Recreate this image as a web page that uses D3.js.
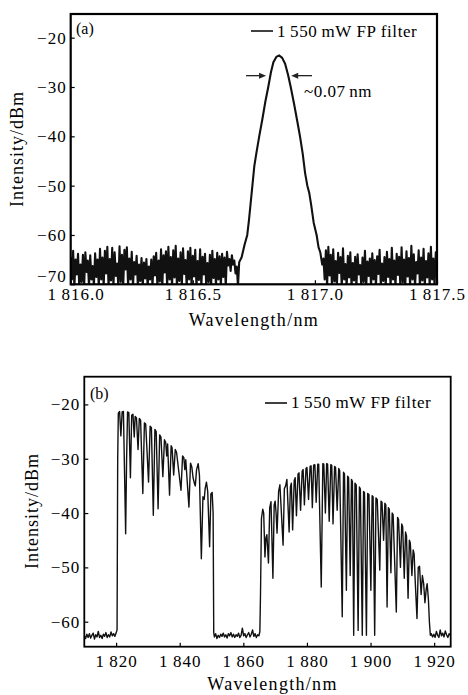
<!DOCTYPE html>
<html>
<head>
<meta charset="utf-8">
<script src="https://cdn.jsdelivr.net/npm/d3@7"></script>
<style>
  body { margin: 0; background: #fff; }
  svg text { font-family: "Liberation Serif", "Times New Roman", serif; fill: #000; }
</style>
</head>
<body>
<div id="chart"></div>
<script>
// ---- panel (a) data: OSA trace sampled every 0.005 nm ----
const noiseLeftStartA = 1816.0;
const noiseLeftA = [
  -64.5,-69,-63.2,-70.5,-65,-68,-63.8,-70.5,-66,-69.5,-64,-70.5,-63.5,-67.5,-65.2,-70.5,-64.1,-69,-66.3,-70.5,
  -63.7,-68.5,-65,-70.5,-62.8,-69,-64.6,-70.5,-63.2,-67.8,-62.4,-70.5,-64.9,-69.2,-62.6,-70.5,-63.5,-68.3,-65.8,-70.5,
  -62.3,-69.5,-64,-70.5,-63,-67,-62.5,-70.5,-64.8,-69,-63.4,-70.5,-65.5,-68,-64.2,-70.5,-66,-69.3,-64.7,-70.5,
  -65.6,-68.8,-64.9,-70.5,-66.4,-69,-65,-70.5,-64.3,-68.2,-63.6,-70.5,-65.2,-69.4,-62.9,-70.5,-64.1,-67.6,-63.3,-70.5,
  -62.4,-69,-64.5,-70.5,-63.1,-68.6,-62.2,-70.5,-64.8,-69.3,-63.5,-70.5,-62.7,-67.9,-65.1,-70.5,-63.3,-69,-62.6,-70.5,
  -64.2,-68.4,-63,-70.5,-65.3,-69.1,-62.9,-70.5,-64.4,-68,-63.8,-70.5,-65.7,-69.5,-64,-70.5,-63.2,-68.7,-64.9,-70.5,
  -63.6,-69,-64.3,-70.5,-63.8,-68.5,-64.6,-70.5,-63.4,-66.2,-64.9,-67.3,-64.1,-66,-65.2,-67.8,-66.4,-70.5,-65.5
];
const peakA = [
  [1816.700,-64.5],[1816.712,-62.0],[1816.723,-60],[1816.730,-57],[1816.738,-53],[1816.744,-50],
  [1816.752,-46],[1816.760,-43.5],[1816.772,-40],[1816.785,-36.5],[1816.797,-33],[1816.809,-30],
  [1816.820,-27],[1816.830,-25],[1816.842,-23.9],[1816.854,-23.6],[1816.866,-24.1],[1816.878,-25.3],
  [1816.890,-27.5],[1816.901,-30],[1816.915,-33.5],[1816.928,-37],[1816.939,-40],[1816.950,-43.5],
  [1816.960,-47.5],[1816.969,-50],[1816.977,-51.5],[1816.985,-54],[1816.995,-57.5],[1817.007,-60],
  [1817.015,-62.5],[1817.022,-63.5],[1817.030,-66]
];
const noiseRightStartA = 1817.035;
const noiseRightA = [
  -64.8,-69,-63.1,-70.5,-62.4,-68.2,-64,-70.5,-62.9,-69.4,-65.3,-70.5,-63.6,-67.7,-64.5,-70.5,-62.7,-69,-65.9,-70.5,
  -64.2,-68.6,-63.5,-70.5,-65.7,-69.2,-64.4,-70.5,-63.9,-68,-66.1,-70.5,-64.6,-69.5,-63.2,-70.5,-65.4,-68.3,-64.8,-70.5,
  -63.7,-69,-65.1,-70.5,-64.3,-67.9,-63,-70.5,-65.8,-69.3,-64.5,-70.5,-63.4,-68.5,-64.9,-70.5,-62.6,-69,-65.2,-70.5,
  -63.8,-68.1,-64.4,-70.5,-62.5,-69.6,-65,-70.5,-63.3,-68.4,-64.7,-70.5,-62.2,-69,-63.9,-70.5,-65.5,-67.8,-63.1,-70.5,
  -64.6,-69.2,-62.8,-70.5,-65.3,-68.6,-63.7,-70.5,-62.4,-69,-64.8,-70.5,-63.5,-68
];
const sampleStepA = 0.005;

// ---- panel (b) data: [wavelength nm, intensity dBm] ----
const floor1B = [
  [1810.0,-62.6],[1810.4,-63.1],[1810.8,-62.3],[1811.2,-62.9],[1811.6,-62.2],[1812.0,-63.0],[1812.4,-62.5],
  [1812.8,-62.1],[1813.2,-63.2],[1813.6,-62.4],[1814.0,-62.8],[1814.4,-61.8],[1814.8,-62.9],[1815.2,-62.5],
  [1815.6,-63.1],[1816.0,-62.3],[1816.4,-62.7],[1816.8,-62.0],[1817.2,-62.9],[1817.6,-62.4],[1818.0,-62.8],
  [1818.4,-61.9],[1818.8,-62.6],[1819.2,-62.2],[1819.6,-62.7],[1820.0,-62.1],[1820.3,-61.5]
];
const band1B = [
  [1820.5,-30],[1820.7,-21.6],[1821.1,-21.3],[1821.5,-25.8],[1821.9,-21.4],[1822.3,-21.3],[1822.7,-34],
  [1823.0,-43.8],[1823.3,-30],[1823.6,-21.4],[1824.0,-21.5],[1824.5,-33.5],[1824.9,-22],[1825.3,-21.8],
  [1825.7,-26],[1826.0,-22.2],[1826.4,-22.5],[1826.9,-28.3],[1827.3,-22.6],[1827.7,-22.9],[1828.4,-36.4],
  [1828.9,-23.4],[1829.3,-23.6],[1830.2,-34.3],[1830.7,-24],[1831.1,-24.3],[1831.7,-40.4],[1832.2,-24.6],
  [1832.6,-25],[1833.2,-39.2],[1833.7,-25.6],[1834.1,-26],[1834.7,-33.3],[1835.2,-26.5],[1835.6,-27],
  [1835.9,-29.5],[1836.2,-27.3],[1836.8,-36.7],[1837.3,-27.6],[1837.6,-28],[1838.1,-33],[1838.6,-28.3],
  [1839.0,-28.8],[1840.4,-35.8],[1840.9,-29.5],[1841.3,-29.8],[1841.6,-32],[1841.9,-30.2],[1842.9,-38.9],
  [1843.4,-30.8],[1843.8,-31.5],[1844.2,-33.5],[1844.6,-34.5],[1844.9,-35],[1845.3,-32],[1845.8,-30.9],
  [1846.2,-33],[1846.8,-48.4],[1847.3,-37],[1847.7,-37.5],[1848.0,-35.5],[1848.4,-34.3],[1848.8,-36],
  [1849.4,-46.2],[1849.8,-36.5],[1850.2,-36.2],[1850.5,-40],[1850.7,-62]
];
const floor2B = [
  [1850.9,-62.8],[1851.3,-62.2],[1851.7,-63.1],[1852.1,-62.5],[1852.5,-62.9],[1852.9,-62.3],[1853.3,-62.7],
  [1853.7,-62.1],[1854.1,-62.8],[1854.5,-62.4],[1854.9,-63],[1855.3,-62.2],[1855.7,-62.6],[1856.1,-62.0],
  [1856.5,-62.8],[1856.9,-62.3],[1857.3,-62.9],[1857.7,-62.4],[1858.1,-62.7],[1858.5,-62.1],[1858.9,-62.9],
  [1859.3,-62.5],[1859.7,-61.2],[1860.1,-62.6],[1860.5,-62.2],[1860.9,-62.9],[1861.3,-62.4],[1861.7,-62.0],
  [1862.1,-62.8],[1862.5,-62.3],[1862.9,-61.5],[1863.3,-62.7],[1863.7,-62.2],[1864.1,-62.9],[1864.5,-62.4],
  [1864.9,-62.6],[1865.2,-61.8]
];
const band2B = [
  [1865.4,-55],[1865.7,-41],[1866.1,-39.3],[1866.4,-40],[1866.8,-48.1],[1867.1,-44.6],[1867.4,-44],
  [1867.9,-49.2],[1868.3,-39],[1868.7,-37.9],[1869.3,-52],[1869.7,-38.5],[1870.0,-37.8],[1870.3,-40],
  [1870.6,-43.7],[1871.1,-36],[1871.5,-34.8],[1872.5,-45.9],[1872.9,-35.5],[1873.3,-35],[1873.7,-33.8],
  [1874.4,-43.5],[1874.8,-35.2],[1875.1,-34.5],[1875.5,-43.1],[1876.0,-34],[1876.3,-33.5],[1876.7,-40.5],
  [1877.2,-32.8],[1877.5,-32.6],[1878.0,-39.5],[1878.5,-32.3],[1878.8,-32],[1879.2,-38.5],[1879.7,-31.8],
  [1880.0,-31.6],[1880.5,-37.5],[1881.0,-31.4],[1881.3,-31.3],[1881.7,-39],[1882.1,-31.2],[1882.5,-31.1],
  [1882.9,-38],[1883.4,-31],[1883.7,-31],[1884.5,-53.6],[1885.0,-30.9],[1885.3,-31],[1885.8,-40],
  [1886.2,-30.9],[1886.5,-31],[1887.0,-41.5],[1887.5,-31.1],[1887.8,-31.2],[1888.2,-42],[1888.7,-31.4],
  [1889.0,-31.6],[1889.5,-39.5],[1890.0,-31.8],[1890.3,-32.2],[1891.1,-59.1],[1891.5,-32.5],[1891.8,-32.8],
  [1892.4,-54.2],[1892.8,-33.2],[1893.1,-33.5],[1893.6,-51.5],[1894.0,-33.8],[1894.3,-34.2],[1894.7,-62.5],
  [1895.1,-34.5],[1895.5,-34.8],[1896.1,-61.6],[1896.5,-35.2],[1896.8,-35.6],[1897.4,-62.5],[1897.8,-36],
  [1898.1,-36.3],[1898.7,-62.5],[1899.1,-36.4],[1899.5,-36.6],[1900.1,-54.2],[1900.5,-36.8],[1900.8,-37],
  [1901.3,-62.5],[1901.7,-37.2],[1902.1,-37.5],[1902.9,-50.5],[1903.3,-37.8],[1903.6,-38],[1904.1,-45],
  [1904.5,-38.2],[1904.8,-38.5],[1905.2,-57.3],[1905.6,-39],[1905.9,-39.3],[1906.4,-51],[1906.8,-40],
  [1907.1,-40.3],[1908.1,-58.2],[1908.5,-40.8],[1908.8,-41.2],[1909.4,-50],[1909.8,-42],[1910.1,-42.5],
  [1910.6,-52],[1911.0,-43.5],[1911.3,-44.2],[1911.8,-55.7],[1912.2,-45],[1912.5,-45.5],[1913.0,-51.5],
  [1913.4,-46.8],[1913.7,-47.5],[1914.0,-52],[1914.6,-59.4],[1915.0,-50],[1915.4,-49.8],[1915.9,-55],
  [1916.3,-51.5],[1916.7,-53],[1917.1,-56.5],[1917.5,-54],[1917.8,-53],[1918.2,-56],[1918.5,-60],[1918.8,-62.5]
];
const floor3B = [
  [1919.1,-62.2],[1919.5,-62.8],[1919.9,-62.3],[1920.3,-62.9],[1920.7,-61.8],[1921.1,-62.5],[1921.5,-62.9],
  [1921.9,-61.5],[1922.3,-62.6],[1922.7,-62.1],[1923.1,-62.8],[1923.5,-61.7],[1923.9,-62.4],[1924.3,-62.9],
  [1924.7,-62.2],[1925.0,-62.5]
];

// ticks and labels
const xTicksA = [1816.0, 1816.5, 1817.0, 1817.5];
const yTicksA = [-70, -60, -50, -40, -30, -20];
const xTicksB = [1820, 1840, 1860, 1880, 1900, 1920];
const yTicksB = [-60, -50, -40, -30, -20];
const legendLabel = "1\u2009550\u2009mW FP filter";
const widthNote = "~0.07\u2009nm";

// build trace A from the sampled pieces
const traceA = noiseLeftA.map((v, i) => [noiseLeftStartA + i * sampleStepA, v])
  .concat(peakA)
  .concat(noiseRightA.map((v, i) => [noiseRightStartA + i * sampleStepA, v]));
const traceB = floor1B.concat(band1B, floor2B, band2B, floor3B);

const svg = d3.select("#chart").append("svg")
    .attr("width", 468).attr("height", 695);

// thin space between thousands and the rest
const groupFmt = digits => d => {
    const s = d.toFixed(digits);
    return s[0] + "\u2009" + s.slice(1);
};
const yFmt = d => "\u2212" + Math.abs(d);

function panel(cfg) {
    const width = cfg.right - cfg.left,
          height = cfg.bottom - cfg.top;

    const g = svg.append("g")
        .attr("transform", "translate(" + cfg.left + "," + cfg.top + ")");

    const x = d3.scaleLinear().domain(cfg.xDomain).range([0, width]);
    const y = d3.scaleLinear().domain(cfg.yDomain).range([height, 0]);

    g.append("clipPath").attr("id", cfg.id + "-clip")
      .append("rect").attr("width", width).attr("height", height);

    // trace
    g.append("path")
        .datum(cfg.data)
        .attr("clip-path", "url(#" + cfg.id + "-clip)")
        .attr("fill", "none")
        .attr("stroke", "#111")
        .attr("stroke-width", cfg.lineWidth)
        .attr("stroke-linejoin", "round")
        .attr("d", d3.line().x(d => x(d[0])).y(d => y(d[1])));

    // axes with inward ticks
    const xAxis = g.append("g")
        .attr("transform", "translate(0," + height + ")")
        .call(d3.axisBottom(x).tickValues(cfg.xTicks).tickFormat(cfg.xFormat)
            .tickSizeInner(-4).tickSizeOuter(0).tickPadding(cfg.xPad));
    const yAxis = g.append("g")
        .call(d3.axisLeft(y).tickValues(cfg.yTicks).tickFormat(yFmt)
            .tickSizeInner(-4).tickSizeOuter(0).tickPadding(4));
    [xAxis, yAxis].forEach(a => {
        a.select(".domain").remove();
        a.attr("font-family", null).attr("font-size", null);
        a.selectAll("line").attr("stroke", "#000").attr("stroke-width", 1.2);
        a.selectAll("text").style("font-size", "17px").attr("letter-spacing", "1px");
    });
    // first wavelength label sits a little to the right
    xAxis.select(".tick text").attr("dx", cfg.firstLabelShift);
    // lowest intensity label is lifted clear of the wavelength labels
    yAxis.select(".tick text").attr("dy", cfg.lowLabelDy);

    // frame
    g.append("rect")
        .attr("width", width).attr("height", height)
        .attr("fill", "none").attr("stroke", "#000").attr("stroke-width", cfg.frameWidth);

    // axis titles
    g.append("text")
        .attr("text-anchor", "middle")
        .attr("x", width / 2 + cfg.xTitleShift)
        .attr("y", cfg.xTitleY - cfg.top)
        .style("font-size", "18px").attr("letter-spacing", "1.3px")
        .text("Wavelength/nm");
    g.append("text")
        .attr("text-anchor", "middle")
        .attr("transform", "rotate(-90)")
        .attr("x", -(cfg.yTitleMid - cfg.top))
        .attr("y", cfg.yTitleX - cfg.left)
        .style("font-size", "18px").attr("letter-spacing", "1px")
        .text("Intensity/dBm");

    // panel tag
    g.append("text")
        .attr("x", cfg.tagX - cfg.left).attr("y", cfg.tagY - cfg.top)
        .style("font-size", "16px")
        .text(cfg.tag);

    // legend
    g.append("line")
        .attr("x1", cfg.legX1 - cfg.left).attr("x2", cfg.legX2 - cfg.left)
        .attr("y1", cfg.legY - cfg.top).attr("y2", cfg.legY - cfg.top)
        .attr("stroke", "#000").attr("stroke-width", 1.5);
    g.append("text")
        .attr("x", cfg.legX2 - cfg.left + 4).attr("y", cfg.legY - cfg.top + 5.5)
        .style("font-size", "17px").attr("letter-spacing", "0.6px")
        .text(legendLabel);

    return {g, x, y};
}

const a = panel({
    id: "pa", data: traceA,
    left: 70.7, right: 437, top: 14, bottom: 284.3,
    xDomain: [1816.0, 1817.5], yDomain: [-70, -15.2],
    xTicks: xTicksA, yTicks: yTicksA, xFormat: groupFmt(1), xPad: 4,
    firstLabelShift: 5, lowLabelDy: "-0.18em",
    lineWidth: 2.1, frameWidth: 2.2,
    xTitleY: 326, xTitleShift: 0, yTitleMid: 149, yTitleX: 23,
    tag: "(a)", tagX: 76, tagY: 34,
    legX1: 251, legX2: 273, legY: 31
});

panel({
    id: "pb", data: traceB,
    left: 84.3, right: 450.7, top: 376.7, bottom: 646.7,
    xDomain: [1810, 1925.2], yDomain: [-64.6, -14.9],
    xTicks: xTicksB, yTicks: yTicksB, xFormat: groupFmt(0), xPad: 8,
    firstLabelShift: 0, lowLabelDy: "0.32em",
    lineWidth: 1.4, frameWidth: 1.8,
    xTitleY: 690, xTitleShift: 5, yTitleMid: 511, yTitleX: 38,
    tag: "(b)", tagX: 90, tagY: 399,
    legX1: 265, legX2: 287, legY: 403
});

// FWHM arrows on panel (a)
const arrowY = -27.7;
const arrows = [
    {from: 1816.718, to: 1816.800},
    {from: 1816.988, to: 1816.903}
];
arrows.forEach(ar => {
    const x0 = a.x(ar.from), x1 = a.x(ar.to), yy = a.y(arrowY);
    const dir = x1 > x0 ? 1 : -1;
    a.g.append("line")
        .attr("x1", x0).attr("x2", x1 - dir * 5)
        .attr("y1", yy).attr("y2", yy)
        .attr("stroke", "#222").attr("stroke-width", 1.3);
    a.g.append("path")
        .attr("d", "M" + x1 + "," + yy + "L" + (x1 - dir * 7) + "," + (yy - 3) + "L" + (x1 - dir * 7) + "," + (yy + 3) + "Z")
        .attr("fill", "#222");
});
a.g.append("text")
    .attr("x", 304 - 70.7).attr("y", 97 - 14)
    .style("font-size", "17px").attr("letter-spacing", "0.5px")
    .text(widthNote);
</script>
</body>
</html>
